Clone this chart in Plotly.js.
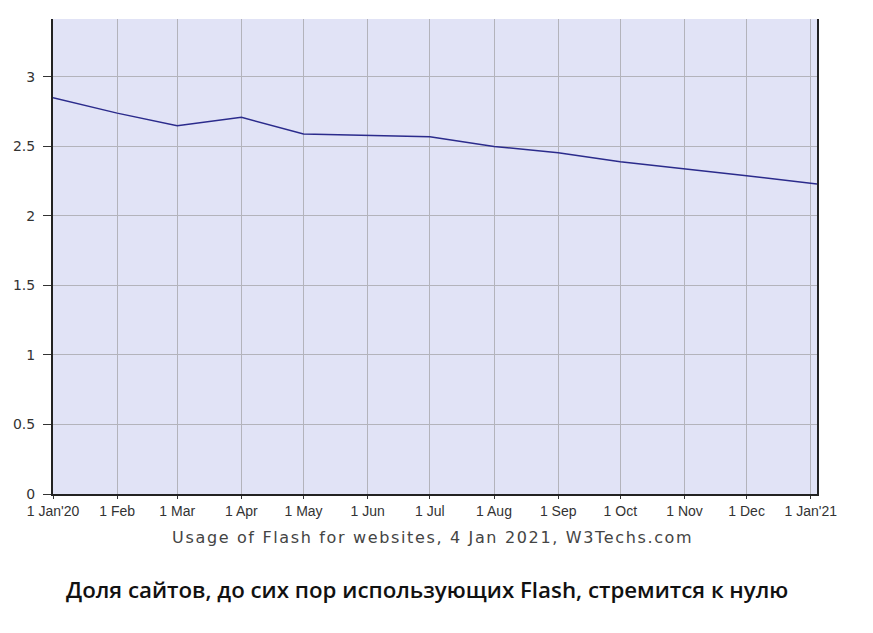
<!DOCTYPE html>
<html>
<head>
<meta charset="utf-8">
<script src="https://cdn.plot.ly/plotly-3.0.1.min.js"></script>
<style>html,body{margin:0;padding:0;background:#fff;}#chart{width:873px;height:633px;}</style>
</head>
<body>
<div id="chart"></div>
<script>
const dates = ['2020-01-01','2020-02-01','2020-03-01','2020-04-01','2020-05-01','2020-06-01','2020-07-01','2020-08-01','2020-09-01','2020-10-01','2020-11-01','2020-12-01','2021-01-04'];
const usage = [2.85, 2.74, 2.65, 2.71, 2.59, 2.58, 2.57, 2.50, 2.455, 2.39, 2.34, 2.29, 2.23];
const tickDates = ['2020-01-01','2020-02-01','2020-03-01','2020-04-01','2020-05-01','2020-06-01','2020-07-01','2020-08-01','2020-09-01','2020-10-01','2020-11-01','2020-12-01','2021-01-01'];
const tickLabels = ["1 Jan'20",'1 Feb','1 Mar','1 Apr','1 May','1 Jun','1 Jul','1 Aug','1 Sep','1 Oct','1 Nov','1 Dec',"1 Jan'21"];
const yTicks = [0, 0.5, 1, 1.5, 2, 2.5, 3];
const yLabels = ['0','0.5','1','1.5','2','2.5','3'];
const subtitle = 'Usage of Flash for websites, 4 Jan 2021, W3Techs.com';
const caption = 'Доля сайтов, до сих пор использующих Flash, стремится к нулю';

const trace = {
  x: dates, y: usage, type: 'scatter', mode: 'lines',
  line: {color: '#2b2b8c', width: 1.5},
  hoverinfo: 'skip'
};

const layout = {
  width: 873, height: 633,
  margin: {l: 53, r: 56, t: 19, b: 139},
  paper_bgcolor: '#ffffff',
  plot_bgcolor: '#e1e3f6',
  showlegend: false,
  xaxis: {
    type: 'date',
    range: ['2020-01-01', '2021-01-04'],
    tickmode: 'array', tickvals: tickDates, ticktext: tickLabels,
    showgrid: true, gridcolor: '#b3b3bb', gridwidth: 1,
    showline: true, linecolor: '#222', linewidth: 2,
    ticks: 'outside', ticklen: 3, tickcolor: '#333',
    tickfont: {family: 'Liberation Sans, Arial, sans-serif', size: 14, color: '#333'},
    zeroline: false, fixedrange: true
  },
  yaxis: {
    range: [0, 3.417],
    tickmode: 'array', tickvals: yTicks, ticktext: yLabels,
    showgrid: true, gridcolor: '#b3b3bb', gridwidth: 1,
    showline: true, linecolor: '#222', linewidth: 2, mirror: true,
    ticks: 'outside', ticklen: 8, tickcolor: '#333', ticklabelstandoff: 5,
    tickfont: {family: 'DejaVu Sans, Verdana, sans-serif', size: 14, color: '#333'},
    zeroline: false, fixedrange: true
  },
  annotations: [
    {text: subtitle, xref: 'paper', yref: 'paper', x: 0.497, y: -0.091, xanchor: 'center', yanchor: 'middle',
     showarrow: false, font: {family: 'DejaVu Sans, Verdana, sans-serif', size: 16, color: '#444'}},
    {text: caption, xref: 'paper', yref: 'paper', x: 0.0144, y: -0.2, xanchor: 'left', yanchor: 'middle',
     showarrow: false, font: {family: 'Open Sans, sans-serif', size: 22.3, color: '#111', weight: 600}}
  ]
};

Plotly.newPlot('chart', [trace], layout, {displayModeBar: false, staticPlot: true}).then(function(){
  // widen the subtitle's letter spacing like the original (Verdana-like spacing)
  document.querySelectorAll('.annotation-text').forEach(function(t, i){
    if (i === 0) t.style.letterSpacing = '1.65px';
  });
});
</script>
</body>
</html>
